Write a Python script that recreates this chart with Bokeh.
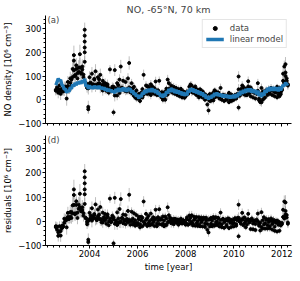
import numpy as np
from bokeh.plotting import figure
from bokeh.layouts import column
from bokeh.models import (ColumnDataSource, SingleIntervalTicker, Range1d, Label,
                          Legend, LegendItem)
from bokeh.embed import file_html
from bokeh.resources import INLINE

# ---------------- data ----------------
years = [2002, 2003, 2004, 2005, 2006, 2007, 2008, 2009, 2010, 2011, 2012]
year_start = {2002: 0.60}
step = 0.05

model_2002 = [62, 74, 90, 80, 84, 64, 58, 44]
model_2003 = [46, 30, 40, 34, 52, 46, 64, 56, 71, 62, 76, 66, 78, 68, 82, 72, 88, 56, 62, 46]
model_2004 = [60, 48, 56, 46, 58, 50, 56, 46, 58, 46, 54, 44, 52, 40, 48, 36, 46, 34, 42, 32]
model_2005 = [38, 28, 45, 33, 49, 34, 48, 37, 52, 37, 49, 34, 47, 45, 45, 30, 38, 22, 28, 14]
model_2006 = [20, 6, 20, 11, 30, 23, 40, 29, 44, 33, 46, 33, 48, 33, 44, 29, 40, 23, 30, 14]
model_2007 = [24, 10, 25, 15, 35, 27, 45, 33, 49, 33, 45, 29, 42, 27, 39, 23, 35, 19, 31, 17]
model_2008 = [29, 19, 39, 31, 49, 35, 47, 31, 43, 27, 39, 23, 35, 19, 31, 13, 23, 5, 15, 1]
model_2009 = [16, 6, 20, 12, 28, 18, 30, 16, 26, 14, 24, 10, 22, 10, 20, 8, 18, 6, 18, 8]
model_2010 = [21, 7, 23, 11, 29, 19, 37, 25, 41, 29, 45, 33, 47, 33, 47, 31, 43, 29, 41, 23]
model_2011 = [38, 16, 28, 12, 30, 18, 40, 30, 50, 36, 54, 38, 54, 38, 54, 38, 52, 36, 54, 40]
model_2012 = [52, 62, 58, 72, 64, 70]

# first observation of each sampled day
data_2002 = [38, 52, 30, 60, 25, 45, 35, 55]
data_2003 = [55, 5, 75, 45, 90, 60, 130, 188, 100, 145, 90, 135, 192, 110, 140, 95, 295, 70, 60, -30]
data_2004 = [95, 60, 110, 58, 85, 120, 62, 95, 70, 105, 50, 80, 60, 70, 38, 65, 30, 128, 40, 55]
data_2005 = [55, 125, 40, 70, 45, 85, 140, 50, 80, 40, 75, 35, 90, 155, 45, 70, 25, 55, 10, 40]
data_2006 = [5, 25, -5, 30, 10, 105, 30, 60, 25, 55, 30, 65, 35, 50, 25, 77, 20, 40, 80, 25]
data_2007 = [10, 30, 5, 35, 20, 85, 70, 35, 60, 30, 55, 25, 50, 20, 45, 15, 40, 10, 35, 15]
data_2008 = [15, 35, 25, 55, 40, 60, 30, 50, 25, 45, 20, 40, 15, 35, 10, 28, 0, 20, -20, -45]
data_2009 = [-5, 20, 0, 30, 10, 35, 15, 30, 5, 50, 0, 20, -5, 15, 0, 20, -10, 10, -5, 15]
data_2010 = [0, 20, 5, 25, 98, 20, 45, 60, 25, 45, 20, 40, 78, 30, 15, 35, 10, 30, 5, 25]
data_2011 = [70, 5, -10, 50, 0, 35, 10, 40, 20, 45, 25, 50, 20, 45, 15, 40, 10, 35, 15, 30]
data_2012 = [40, 110, 75, 150, 90, 60]

# second observation of each sampled day
data2_2002 = [42, 40, 45, 38, 44, 36, 40, 38]
data2_2003 = [50, 36, 58, 44, 72, 85, 96, 124, 104, 130, 112, 118, 136, 115, 128, 106, 200, 68, 50, 48]
data2_2004 = [69, 72, 59, 65, 88, 63, 61, 67, 86, 54, 63, 39, 69, 44, 61, 56, 45, 45, 39, 47]
data2_2005 = [46, 18, 48, 18, 61, 29, 48, 51, 44, 42, 37, 44, 44, 52, 31, 32, 49, 16, 32, 5]
data2_2006 = [14, 15, 8, 15, 45, 21, 30, 35, 57, 26, 47, 20, 57, 29, 49, 41, 31, 26, 19, 21]
data2_2007 = [32, 0, 28, 0, 47, 22, 45, 47, 41, 38, 33, 39, 39, 34, 25, 25, 46, 13, 35, 8]
data2_2008 = [23, 28, 27, 35, 64, 33, 37, 37, 56, 20, 40, 10, 44, 15, 36, 25, 14, 8, 4, 8]
data2_2009 = [24, -4, 23, -3, 40, 13, 30, 30, 18, 19, 12, 20, 19, 17, 6, 10, 29, 0, 22, -1]
data2_2010 = [15, 16, 11, 15, 44, 17, 27, 31, 54, 22, 46, 20, 56, 29, 52, 43, 34, 32, 30, 30]
data2_2011 = [38, -2, 23, -11, 34, 5, 32, 36, 34, 33, 34, 40, 43, 37, 32, 32, 55, 22, 50, 23]
data2_2012 = [45, 80, 70, 100, 80, 65]

err_2002 = [20, 18, 24, 20, 26, 20, 18, 22]
err_2003 = [22, 30, 25, 20, 28, 24, 35, 40, 28, 30, 26, 32, 40, 28, 30, 24, 30, 22, 20, 26]
err_2004 = [25, 18, 28, 16, 22, 30, 18, 24, 20, 26, 16, 22, 18, 20, 15, 20, 14, 18, 16, 18]
err_2005 = [16, 25, 14, 20, 15, 22, 28, 15, 20, 14, 18, 14, 22, 28, 15, 18, 14, 16, 12, 15]
err_2006 = [12, 15, 14, 16, 12, 22, 14, 18, 12, 16, 14, 18, 14, 16, 12, 20, 12, 15, 18, 14]
err_2007 = [12, 15, 12, 16, 14, 20, 18, 15, 18, 14, 16, 12, 16, 12, 15, 12, 14, 12, 14, 12]
err_2008 = [12, 15, 12, 18, 14, 18, 12, 16, 12, 15, 12, 14, 12, 14, 12, 13, 12, 14, 16, 18]
err_2009 = [12, 14, 12, 16, 12, 16, 12, 14, 12, 18, 12, 14, 12, 14, 12, 14, 12, 13, 12, 14]
err_2010 = [12, 14, 12, 15, 22, 14, 16, 18, 14, 15, 12, 14, 20, 14, 12, 15, 12, 14, 12, 14]
err_2011 = [18, 12, 16, 18, 14, 15, 12, 16, 14, 16, 14, 16, 12, 15, 12, 14, 12, 14, 12, 14]
err_2012 = [16, 25, 20, 30, 22, 18]

# additional observations on the same days (outliers / spikes)
extra_time = [2003.35, 2003.80, 2003.80, 2003.80, 2003.80, 2003.95, 2005.00, 2010.20, 2012.10, 2012.15]
extra_value = [165, 270, 245, 220, 160, -40, -53, -33, 140, 115]
extra_err = [30, 35, 30, 30, 25, 20, 15, 15, 25, 20]

x_ticks_interval = 2
y_ticks_interval = 100

# ---------------- assemble ----------------
model_lists = [model_2002, model_2003, model_2004, model_2005, model_2006, model_2007,
               model_2008, model_2009, model_2010, model_2011, model_2012]
data_lists = [data_2002, data_2003, data_2004, data_2005, data_2006, data_2007,
              data_2008, data_2009, data_2010, data_2011, data_2012]
data2_lists = [data2_2002, data2_2003, data2_2004, data2_2005, data2_2006, data2_2007,
               data2_2008, data2_2009, data2_2010, data2_2011, data2_2012]
err_lists = [err_2002, err_2003, err_2004, err_2005, err_2006, err_2007,
             err_2008, err_2009, err_2010, err_2011, err_2012]

time, model, data, data2, err = [], [], [], [], []
for y, m, d, d2, e in zip(years, model_lists, data_lists, data2_lists, err_lists):
    s = year_start.get(y, 0.0)
    for k in range(len(m)):
        time.append(round(y + s + step * k, 2))
        model.append(m[k])
        data.append(d[k])
        data2.append(d2[k])
        err.append(e[k])

model_at = dict(zip(time, model))
resid = [d - m for d, m in zip(data, model)]
resid2 = [d - m for d, m in zip(data2, model)]
extra_resid = [v - model_at[round(t, 2)] for t, v in zip(extra_time, extra_value)]

all_t = np.array(time + time + extra_time, dtype=float)
all_d = np.array(data + data2 + extra_value, dtype=float)
all_e = np.array(err + err + extra_err, dtype=float)
all_r = np.array(resid + resid2 + extra_resid, dtype=float)

src = ColumnDataSource(dict(t=all_t, d=all_d, dlo=all_d - all_e, dhi=all_d + all_e,
                            r=all_r, rlo=all_r - all_e, rhi=all_r + all_e))
msrc = ColumnDataSource(dict(t=np.array(time, dtype=float), m=np.array(model, dtype=float)))
# legend-only source: no drawable position
lsrc = ColumnDataSource(dict(x=[np.nan], y=[np.nan]))

FONT = "DejaVu Sans"
FS = "8.5px"
XR = (2002.17, 2012.4)
YR = (-100, 355)
ERR_COLOR = "#8c8c8c"


def style(p):
    p.outline_line_color = None
    p.grid.visible = False
    p.background_fill_color = "white"
    p.border_fill_color = "white"
    for ax in p.axis:
        ax.axis_line_color = "black"
        ax.axis_line_width = 1
        ax.major_tick_out = 3
        ax.major_tick_in = 0
        ax.minor_tick_out = 2
        ax.minor_tick_in = 0
        ax.major_tick_line_color = "black"
        ax.minor_tick_line_color = "black"
        ax.major_label_text_font = FONT
        ax.major_label_text_font_size = FS
        ax.major_label_text_color = "black"
        ax.axis_label_text_font = FONT
        ax.axis_label_text_font_size = FS
        ax.axis_label_text_font_style = "normal"
        ax.axis_label_text_color = "black"
        ax.major_label_standoff = 1
        ax.axis_label_standoff = 2
    p.xaxis.ticker = SingleIntervalTicker(interval=x_ticks_interval, num_minor_ticks=8)
    p.yaxis.ticker = SingleIntervalTicker(interval=y_ticks_interval, num_minor_ticks=5)
    p.yaxis.major_label_overrides = {-100: "\u2212100"}


p1 = figure(frame_width=246, frame_height=108, x_range=Range1d(*XR), y_range=Range1d(*YR),
            output_backend="svg", toolbar_location=None,
            min_border_left=36, min_border_right=2, min_border_top=2, min_border_bottom=8)
p1.title.text = "NO, -65\u00b0N, 70 km"
p1.title.align = "center"
p1.title.text_font = FONT
p1.title.text_font_size = "9.5px"
p1.title.text_font_style = "normal"
p1.title.standoff = 2
style(p1)
p1.yaxis.axis_label = "NO density [10\u2076 cm\u207b\u00b3]"
p1.xaxis.major_label_overrides = {2002: "", 2004: "", 2006: "", 2008: "", 2010: "", 2012: ""}
p1.xaxis.major_label_text_font_size = "2px"
p1.xaxis.major_label_standoff = 0

p1.segment(x0="t", y0="dlo", x1="t", y1="dhi", source=src, line_color=ERR_COLOR,
           line_width=0.8, line_alpha=0.7)
p1.scatter(x="t", y="d", source=src, size=3, marker="circle",
           fill_color="black", line_color="black")
ml = p1.line(x="t", y="m", source=msrc, line_color="#1f77b4", line_width=3.4)

# legend proxy (position is NaN, so nothing is drawn in the plot area)
proxy_dot = p1.scatter(x="x", y="y", source=lsrc, marker="circle", size=3,
                       line_color="black", fill_color="black")

legend = Legend(items=[LegendItem(label="data", renderers=[proxy_dot]),
                       LegendItem(label="linear model", renderers=[ml])],
                location="top_right")
legend.label_text_font = FONT
legend.label_text_font_size = FS
legend.glyph_width = 18
legend.glyph_height = 10
legend.spacing = 1
legend.padding = 3
legend.margin = 4
legend.label_standoff = 6
legend.label_height = 10
legend.border_line_color = "#cccccc"
legend.background_fill_alpha = 0.85
p1.add_layout(legend)

p1.add_layout(Label(x=2002.25, y=335, text="(a)", text_font=FONT, text_font_size=FS,
                    text_baseline="middle"))

p2 = figure(frame_width=246, frame_height=110, x_range=p1.x_range, y_range=Range1d(*YR),
            output_backend="svg", toolbar_location=None,
            min_border_left=36, min_border_right=2, min_border_top=4, min_border_bottom=2)
style(p2)
p2.yaxis.axis_label = "residuals [10\u2076 cm\u207b\u00b3]"
p2.xaxis.axis_label = "time [year]"

p2.segment(x0="t", y0="rlo", x1="t", y1="rhi", source=src, line_color=ERR_COLOR,
           line_width=0.8, line_alpha=0.7)
p2.scatter(x="t", y="r", source=src, size=3, marker="circle",
           fill_color="black", line_color="black")
p2.add_layout(Label(x=2002.25, y=335, text="(d)", text_font=FONT, text_font_size=FS,
                    text_baseline="middle"))

layout = column(p1, p2, spacing=0)
open("out.html", "w").write(file_html(layout, INLINE))
